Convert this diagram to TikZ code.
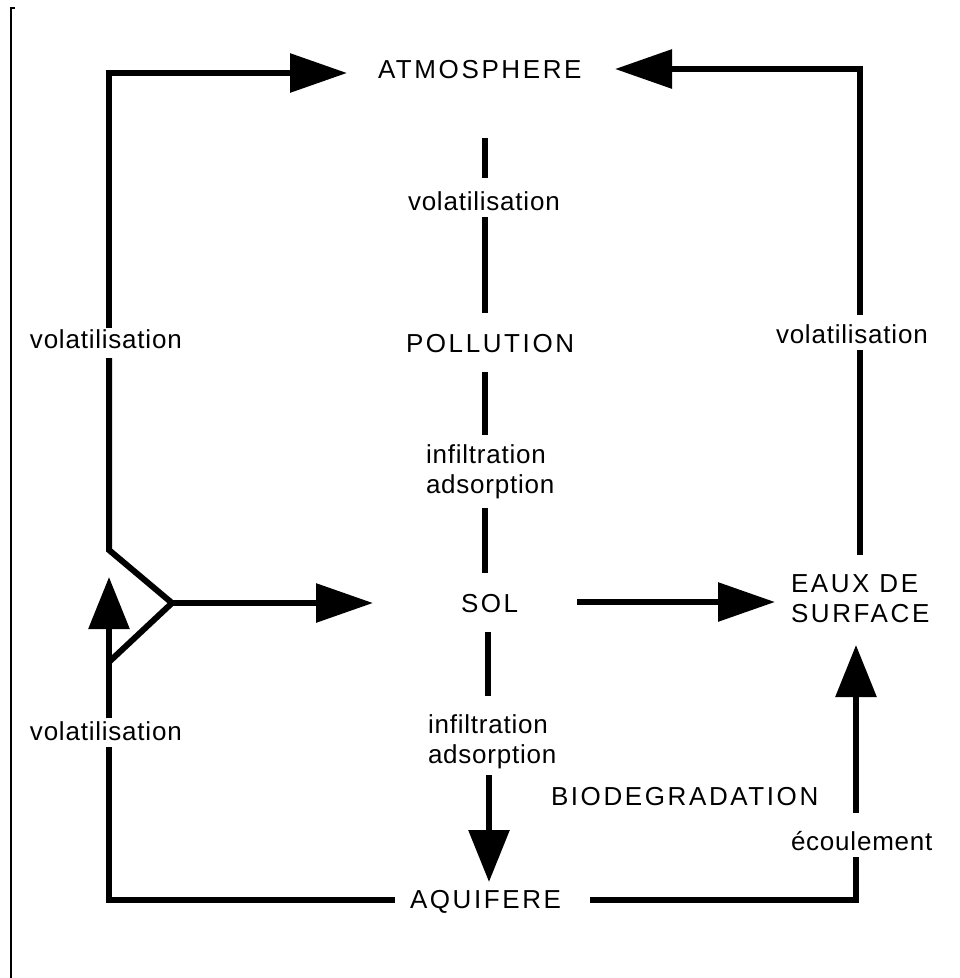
\documentclass[tikz,border=0pt]{standalone}
\usepackage{fontspec}
\setmainfont{Liberation Sans}
\newfontfamily\capsfont[LetterSpace=10]{Liberation Sans}
\newfontfamily\lowfont[LetterSpace=3]{Liberation Sans}
\usetikzlibrary{arrows.meta}
\begin{document}
\begin{tikzpicture}[x=1pt,y=-1pt,line width=6pt,
  bigtxt/.style={inner sep=0pt,anchor=base west,font=\capsfont\fontsize{26}{30}\selectfont},
  smalltxt/.style={inner sep=0pt,anchor=base west,font=\lowfont\fontsize{26}{30}\selectfont},
  harrow/.style={-{Triangle[length=57pt,width=38pt]}},
  varrow/.style={-{Triangle[length=52pt,width=40pt]}}]
\useasboundingbox (0,0) rectangle (960,978);
% frame edge
\coordinate (f1) at (15,8);
\coordinate (f2) at (11,8);
\coordinate (f3) at (11,978);
\draw[line width=2pt] (f1) -- (f2) -- (f3);
% texts
\node[bigtxt] (atm) at (375,78) {ATMOSPHERE};
\node[smalltxt] (volc) at (405,210) {volatilisation};
\node[bigtxt] (pol) at (403,352) {POLLUTION};
\node[smalltxt] (inf1) at (423,463) {infiltration};
\node[smalltxt] (ads1) at (423,493) {adsorption};
\node[bigtxt] (sol) at (458,612) {SOL};
\node[smalltxt] (inf2) at (425,733) {infiltration};
\node[smalltxt] (ads2) at (425,763) {adsorption};
\node[bigtxt] (bio) at (548,805) {BIODEGRADATION};
\node[bigtxt] (aqu) at (407,908) {AQUIFERE};
\node[bigtxt] (eaux1) at (788,592) {EAUX DE};
\node[bigtxt] (eaux2) at (788,622) {SURFACE};
\node[smalltxt] (volr) at (773,343) {volatilisation};
\node[smalltxt] (voll1) at (27,348) {volatilisation};
\node[smalltxt] (voll2) at (27,740) {volatilisation};
\node[smalltxt] (ecou) at (788,850) {écoulement};
% coordinates
\coordinate (atmL) at (347,73);
\coordinate (atmR) at (615,69);
\coordinate (l1) at (109,328);
\coordinate (l2) at (109,358);
\coordinate (lj) at (109,550);
\coordinate (jn) at (172,603);
\coordinate (ld) at (109,662);
\coordinate (ltip) at (109,577);
\coordinate (l3) at (109,718);
\coordinate (l4) at (109,747);
\coordinate (aquL) at (395,900);
\coordinate (aquR) at (590,900);
\coordinate (e1) at (856,857);
\coordinate (e2) at (856,813);
\coordinate (etip) at (856,645);
\coordinate (r1) at (860,315);
\coordinate (r2) at (860,350);
\coordinate (r3) at (860,555);
\coordinate (solW) at (373,603);
\coordinate (solE1) at (577,602);
\coordinate (solE2) at (775,602);
\coordinate (c1) at (485,138);
\coordinate (c2) at (485,178);
\coordinate (c3) at (485,217);
\coordinate (c4) at (485,313);
\coordinate (c5) at (485,372);
\coordinate (c6) at (485,435);
\coordinate (c7) at (485,508);
\coordinate (c8) at (485,573);
\coordinate (c9) at (488,632);
\coordinate (c10) at (488,696);
\coordinate (c11) at (489,775);
\coordinate (c12) at (489,882);
% left loop
\draw[harrow] (l1) |- (atmL);
\draw (l2) -- (lj) -- (jn) -- (ld);
\draw[harrow] (jn) -- (solW);
\draw[varrow] (l3) -- (ltip);
\draw (l4) |- (aquL);
% bottom right
\draw (aquR) -| (e1);
\draw[varrow] (e2) -- (etip);
% right
\draw[harrow] (r1) |- (atmR);
\draw (r2) -- (r3);
% sol to eaux
\draw[harrow] (solE1) -- (solE2);
% centre
\draw (c1) -- (c2);
\draw (c3) -- (c4);
\draw (c5) -- (c6);
\draw (c7) -- (c8);
\draw (c9) -- (c10);
\draw[varrow] (c11) -- (c12);
\end{tikzpicture}
\end{document}
